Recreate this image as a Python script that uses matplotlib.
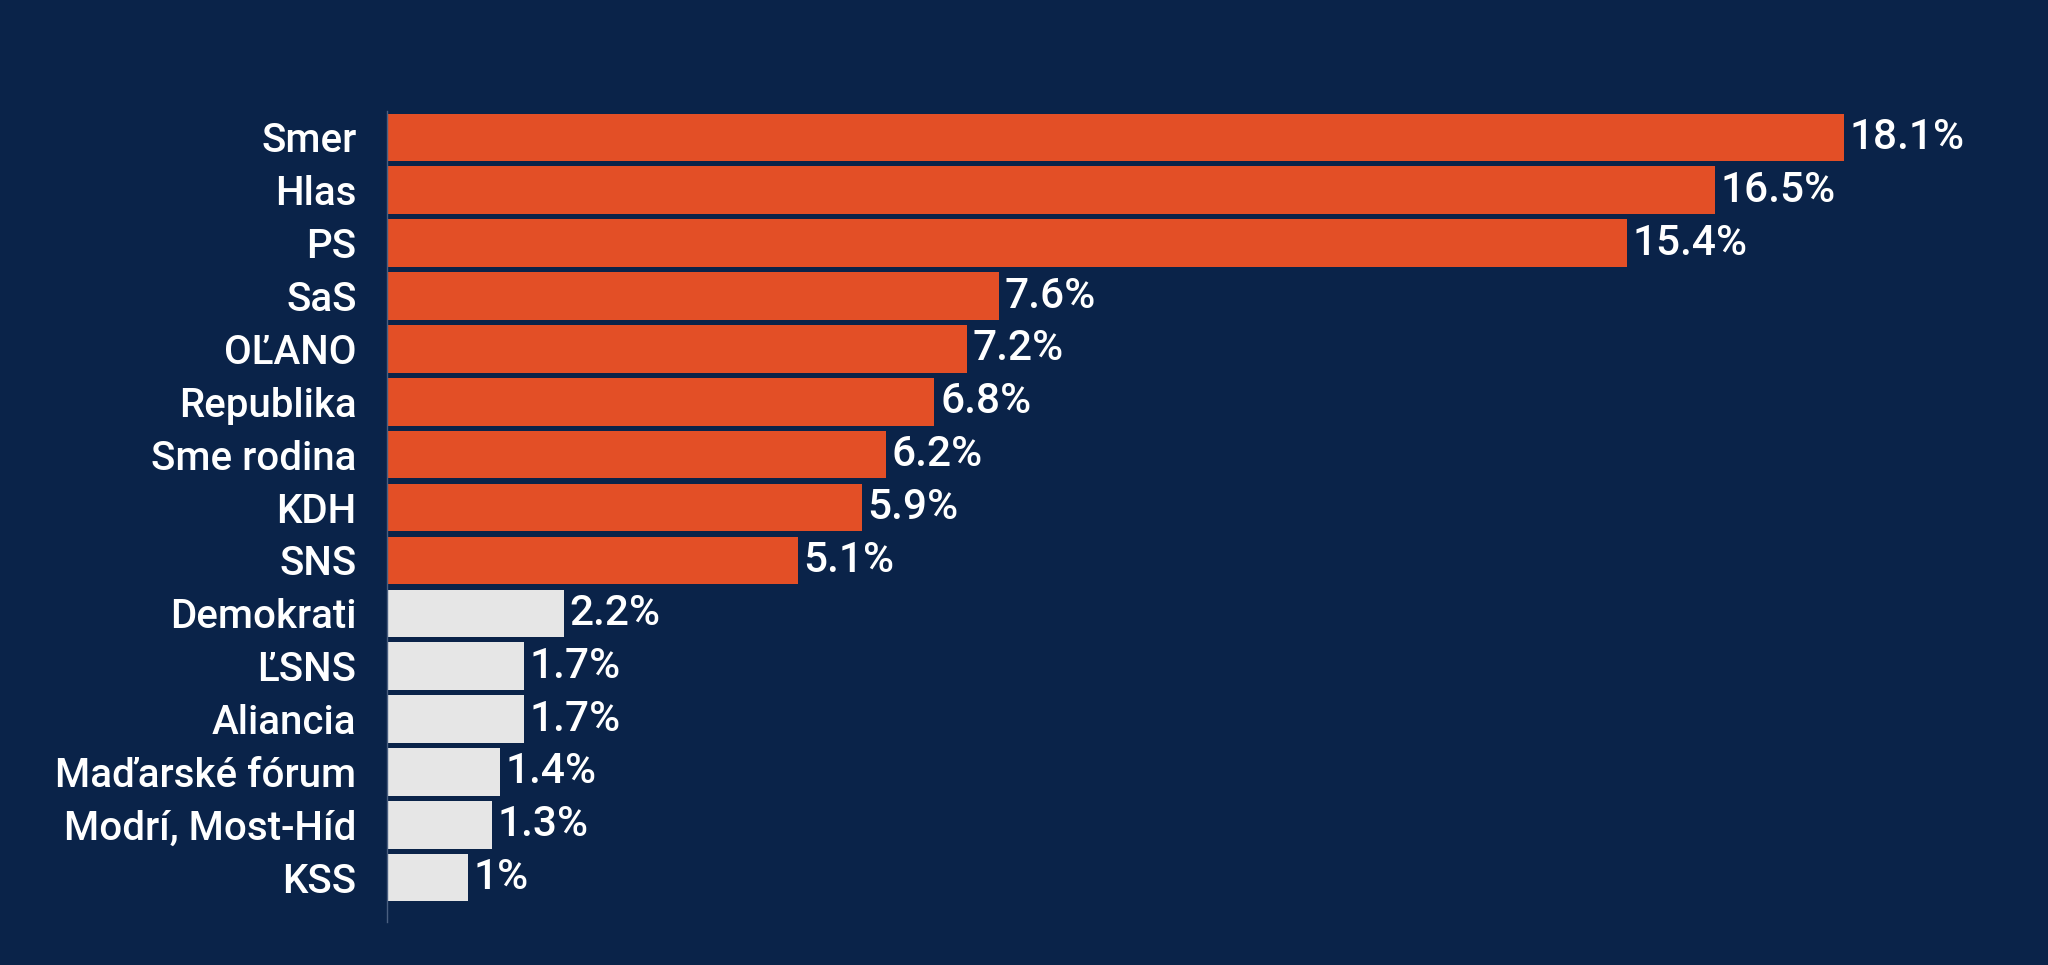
import matplotlib.pyplot as plt

plt.rcParams['font.family'] = ['Roboto', 'DejaVu Sans']

parties = ['Smer', 'Hlas', 'PS', 'SaS', 'OĽANO', 'Republika', 'Sme rodina', 'KDH', 'SNS',
           'Demokrati', 'ĽSNS', 'Aliancia', 'Maďarské fórum', 'Modrí, Most-Híd', 'KSS']
shares = [18.1, 16.5, 15.4, 7.6, 7.2, 6.8, 6.2, 5.9, 5.1, 2.2, 1.7, 1.7, 1.4, 1.3, 1.0]
value_labels = ['18.1%', '16.5%', '15.4%', '7.6%', '7.2%', '6.8%', '6.2%', '5.9%', '5.1%',
                '2.2%', '1.7%', '1.7%', '1.4%', '1.3%', '1%']
threshold = 5.0

bg = '#0a2349'
orange = '#e34f26'
grey = '#e6e6e6'

fig = plt.figure(figsize=(20.48, 9.65), dpi=100, facecolor=bg)
ax = fig.add_axes([0.189, 0.045, 0.79, 0.84])
ax.set_facecolor(bg)

colors = [orange if s >= threshold else grey for s in shares]
ypos = list(range(len(parties)))
ax.barh(ypos, shares, height=0.9, color=colors)

for y, s, lab in zip(ypos, shares, value_labels):
    ax.text(s + 0.07, y, lab, va='center', ha='left', color='white',
            fontsize=30.5, fontweight='medium')

ax.set_yticks(ypos)
ax.set_yticklabels(parties, color='white', fontsize=29, fontweight='medium')
ax.tick_params(axis='y', length=0, pad=22)
ax.set_xticks([])
ax.set_xlim(0, 20.1)
ax.set_ylim(14.83, -0.5)

for side in ['top', 'right', 'bottom']:
    ax.spines[side].set_visible(False)
ax.spines['left'].set_color('#4a5f80')
ax.spines['left'].set_linewidth(1)

fig.savefig('out.png', dpi=100, facecolor=bg)
